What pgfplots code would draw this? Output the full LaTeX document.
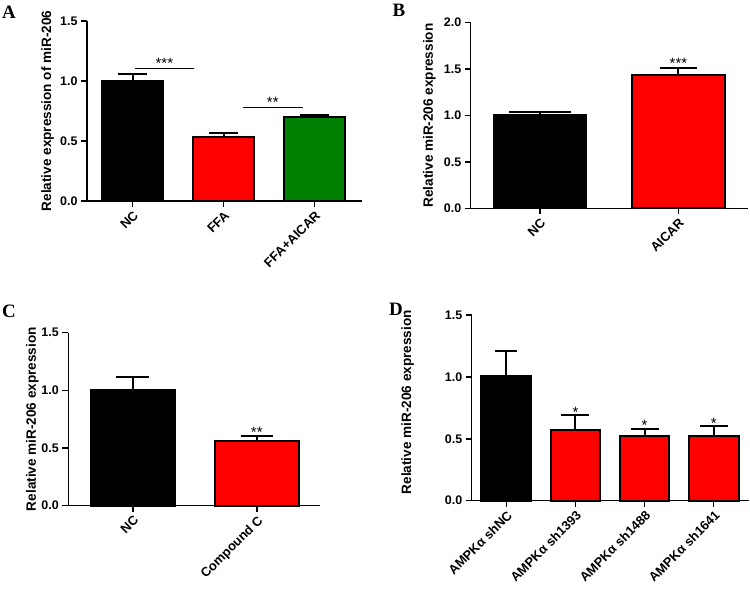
\documentclass[border=0pt]{standalone}
\usepackage{pgfplots}
\pgfplotsset{compat=1.18}
\usepackage{fontspec}
\setmainfont{Liberation Sans}
\newfontfamily\panelfont{Liberation Serif}

\definecolor{gpgreen}{RGB}{0,128,0}

\pgfplotsset{
  panel/.style={
    scale only axis,
    axis lines=left,
    axis line style={-, line width=1.5bp},
    tick align=outside,
    major tick length=6bp,
    tick style={line width=1.5bp, black},
    ymin=0,
    clip=false,
    yticklabel style={/pgf/number format/fixed,
      /pgf/number format/fixed zerofill,
      /pgf/number format/precision=1},
    /pgf/number format/assume math mode=true,
    every tick label/.append style={font=\fontsize{12.5}{14}\selectfont\bfseries},
    xticklabel style={rotate=45, anchor=north east, inner sep=2bp,
      font=\fontsize{13}{15}\selectfont\bfseries},
    every axis y label/.style={rotate=90, anchor=center,
      font=\fontsize{13.6}{16}\selectfont\bfseries},
  },
  gbar/.style={ybar, bar shift=0pt, draw=black, line width=2bp,
    error bars/.cd, y dir=plus, y explicit,
    error bar style={line width=2bp, black},
    error mark options={rotate=90, line width=2bp, black, mark size=#1},
    /pgfplots/.cd},
  gbar/.default=14bp,
}
\newcommand{\sig}{\fontsize{15}{17}\selectfont}

\begin{document}
\begin{tikzpicture}[x=1bp, y=1bp]
\path[use as bounding box] (0,0) rectangle (750,590);

% panel labels
\node[font=\panelfont\bfseries\fontsize{19}{21}\selectfont] at (9bp,578bp) {A};
\node[font=\panelfont\bfseries\fontsize{19}{21}\selectfont] at (399bp,580bp) {B};
\node[font=\panelfont\bfseries\fontsize{19}{21}\selectfont] at (9bp,279bp) {C};
\node[font=\panelfont\bfseries\fontsize{19}{21}\selectfont] at (396bp,281bp) {D};

% A
\begin{axis}[panel,
  at={(87bp,389bp)}, anchor=south west,
  width=275bp, height=180bp,
  xmin=-0.5, xmax=2.52, ymax=1.5,
  xtick={0,1,2}, xticklabels={NC, FFA, FFA+AICAR},
  ytick={0,0.5,1.0,1.5},
  bar width=0.67,
  ylabel={Relative expression of miR-206},
  ylabel style={at={(axis description cs:-0.143,0.5)}},
]
\addplot[fill=black, gbar=14.5bp] coordinates {(0,1.00) +- (0,0.06)};
\addplot[fill=red, gbar=14.5bp] coordinates {(1,0.53) +- (0,0.04)};
\addplot[fill=gpgreen, gbar=14.5bp] coordinates {(2,0.70) +- (0,0.02)};
\draw[line width=1bp] (axis cs:0.03,1.10) -- (axis cs:0.67,1.10);
\node[anchor=base, font=\sig] at (axis cs:0.35,1.10) {***};
\draw[line width=1bp] (axis cs:1.21,0.78) -- (axis cs:1.87,0.78);
\node[anchor=base, font=\sig] at (axis cs:1.54,0.78) {**};
\end{axis}

% B
\begin{axis}[panel,
  at={(470.7bp,381.7bp)}, anchor=south west,
  width=277bp, height=185.6bp,
  xmin=-0.5, xmax=1.5, ymax=2.0,
  xtick={0,1}, xticklabels={NC, AICAR},
  ytick={0,0.5,1.0,1.5,2.0},
  bar width=0.67,
  ylabel={Relative miR-206 expression},
  ylabel style={at={(axis description cs:-0.149,0.5)}},
]
\addplot[fill=black, gbar=31bp] coordinates {(0,1.00) +- (0,0.04)};
\addplot[fill=red, gbar=18.5bp] coordinates {(1,1.44) +- (0,0.07)};
\node[anchor=base, font=\sig] at (axis cs:1,1.51) {***};
\end{axis}

% C
\begin{axis}[panel,
  at={(68.3bp,84.3bp)}, anchor=south west,
  width=251.7bp, height=173bp,
  xmin=-0.52, xmax=1.51, ymax=1.5,
  xtick={0,1}, xticklabels={NC, Compound C},
  ytick={0,0.5,1.0,1.5},
  bar width=0.68,
  ylabel={Relative miR-206 expression},
  ylabel style={at={(axis description cs:-0.143,0.5)}},
]
\addplot[fill=black, gbar=16.5bp] coordinates {(0,1.00) +- (0,0.12)};
\addplot[fill=red, gbar=16bp] coordinates {(1,0.56) +- (0,0.04)};
\node[anchor=base, font=\sig] at (axis cs:1,0.595) {**};
\end{axis}

% D
\begin{axis}[panel,
  at={(471.7bp,89.3bp)}, anchor=south west,
  width=277.3bp, height=185.7bp,
  xmin=-0.5, xmax=3.51, ymax=1.5,
  xtick={0,1,2,3},
  xticklabels={AMPKα shNC, AMPKα sh1393, AMPKα sh1488, AMPKα sh1641},
  ytick={0,0.5,1.0,1.5},
  bar width=0.72,
  ylabel={Relative miR-206 expression},
  ylabel style={at={(axis description cs:-0.231,0.53)}},
]
\addplot[fill=black, gbar=11bp] coordinates {(0,1.01) +- (0,0.20)};
\addplot[fill=red, gbar=14bp] coordinates {(1,0.57) +- (0,0.12) (2,0.52) +- (0,0.06) (3,0.52) +- (0,0.08)};
\node[anchor=base, font=\sig] at (axis cs:1,0.675) {*};
\node[anchor=base, font=\sig] at (axis cs:2,0.565) {*};
\node[anchor=base, font=\sig] at (axis cs:3,0.585) {*};
\end{axis}
\end{tikzpicture}
\end{document}
